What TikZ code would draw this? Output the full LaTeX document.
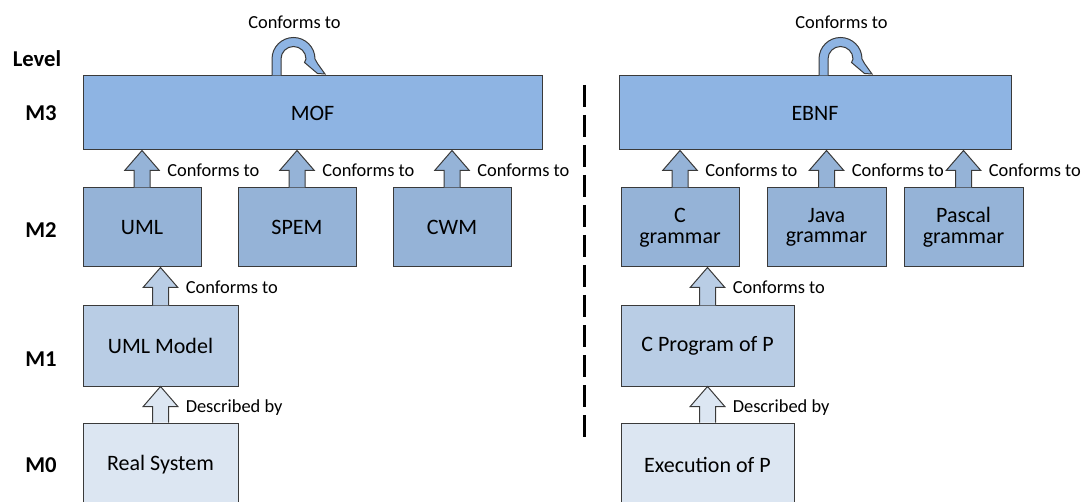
\documentclass[tikz,border=0pt]{standalone}
\usepackage{fontspec}
\setmainfont{Carlito}
\usetikzlibrary{calc}

\definecolor{mthree}{HTML}{8EB4E3}
\definecolor{mtwo}{HTML}{95B3D7}
\definecolor{mone}{HTML}{B9CDE5}
\definecolor{mzero}{HTML}{DCE6F2}
\definecolor{edge}{HTML}{3A3A3A}

% block arrow from the top of #2 up to the bottom of #3, with a side label
\newcommand\upconn[4]{%
  \filldraw[blk, fill=#1] let \p1=(#2.north), \p2=(#2.north |- #3.south) in
    (\x2-6pt,\y1) -- (\x2-6pt,\y2-15pt) -- (\x2-13pt,\y2-15pt) -- (\x2,\y2)
    -- (\x2+13pt,\y2-15pt) -- (\x2+6pt,\y2-15pt) -- (\x2+6pt,\y1);
  \node[lbl, anchor=mid west] at ($(#2.north |- #3.south)+(25,23)$) {#4};
}

% curved self arrow standing on a box top, base point #1
\newcommand\selfconn[1]{%
  \begin{scope}[shift={(#1)}]
    \filldraw[blk, fill=mthree]
      (-4.5,0) -- (-4.5,-16.5) arc[start angle=180, end angle=360, radius=21.5]
      -- (41,-12) -- (48.5,-1.5) -- (41,-2) -- (28,-13) -- (29.5,-16.5)
      arc[start angle=360, end angle=180, radius=12.5] -- (4.5,0);
    \node[lbl] at (18,-53) {Conforms to};
  \end{scope}
}

\begin{document}
\begin{tikzpicture}[x=0.75pt, y=-0.75pt,
  box/.style={draw=edge, line width=0.75pt, inner sep=0pt,
    font=\fontsize{16.5}{15.5}\selectfont},
  two/.style={align=center},
  px/.style 2 args={minimum width=#1*0.75pt, minimum height=#2*0.75pt},
  lbl/.style={font=\fontsize{13.8}{15}\selectfont, inner sep=0pt},
  lvl/.style={font=\bfseries\fontsize{17}{18}\selectfont, inner sep=0pt},
  blk/.style={draw=edge, line width=0.75pt, line join=miter},
  sep/.style={line width=2.25pt, dash pattern=on 16.5pt off 6pt}]
\useasboundingbox (0,0) rectangle (1085,502);

% level column
\node[lvl] (lvlh) at (37,59) {Level};
\node[lvl] (l3) at (41,113) {M3};
\node[lvl] (l2) at (41,230) {M2};
\node[lvl] (l1) at (41,359) {M1};
\node[lvl] (l0) at (41,465) {M0};

% modelling stack
\node[box, fill=mthree, px={459}{74}] (mof) at (312.5,113) {MOF};
\node[box, fill=mtwo, px={118}{79}] (uml) at (142,227.5) {UML};
\node[box, fill=mtwo, px={118}{79}] (spem) at (297,227.5) {SPEM};
\node[box, fill=mtwo, px={118}{79}] (cwm) at (452,227.5) {CWM};
\node[box, fill=mone, px={155}{80}] (umlm) at (160.5,346) {UML Model};
\node[box, fill=mzero, px={155}{84}] (real) at (160.5,465) {Real System};

% grammar stack
\node[box, fill=mthree, px={392}{74}] (ebnf) at (815,113) {EBNF};
\node[box, two, fill=mtwo, px={118}{79}] (cgr) at (680,227.5) {C\\grammar};
\node[box, two, fill=mtwo, px={119}{79}] (jgr) at (826.5,227.5) {Java\\grammar};
\node[box, two, fill=mtwo, px={119}{79}] (pgr) at (963.5,227.5) {Pascal\\grammar};
\node[box, fill=mone, px={173}{80}] (cprog) at (707.5,346) {C Program of P};
\node[box, fill=mzero, px={173}{84}] (exec) at (707.5,465) {Execution of P};

% relations
\upconn{mtwo}{uml}{mof}{Conforms to}
\upconn{mtwo}{spem}{mof}{Conforms to}
\upconn{mtwo}{cwm}{mof}{Conforms to}
\upconn{mone}{umlm}{uml}{Conforms to}
\upconn{mzero}{real}{umlm}{Described by}

\upconn{mtwo}{cgr}{ebnf}{Conforms to}
\upconn{mtwo}{jgr}{ebnf}{Conforms to}
\upconn{mtwo}{pgr}{ebnf}{Conforms to}
\upconn{mone}{cprog}{cgr}{Conforms to}
\upconn{mzero}{exec}{cprog}{Described by}

\coordinate (mofloop) at ($(mof.north)+(-36,0)$);
\coordinate (ebnfloop) at ($(ebnf.north)+(8.5,0)$);
\selfconn{mofloop}
\selfconn{ebnfloop}

% divider between the two stacks
\draw[sep] (584,85) -- (584,437);
\end{tikzpicture}
\end{document}
